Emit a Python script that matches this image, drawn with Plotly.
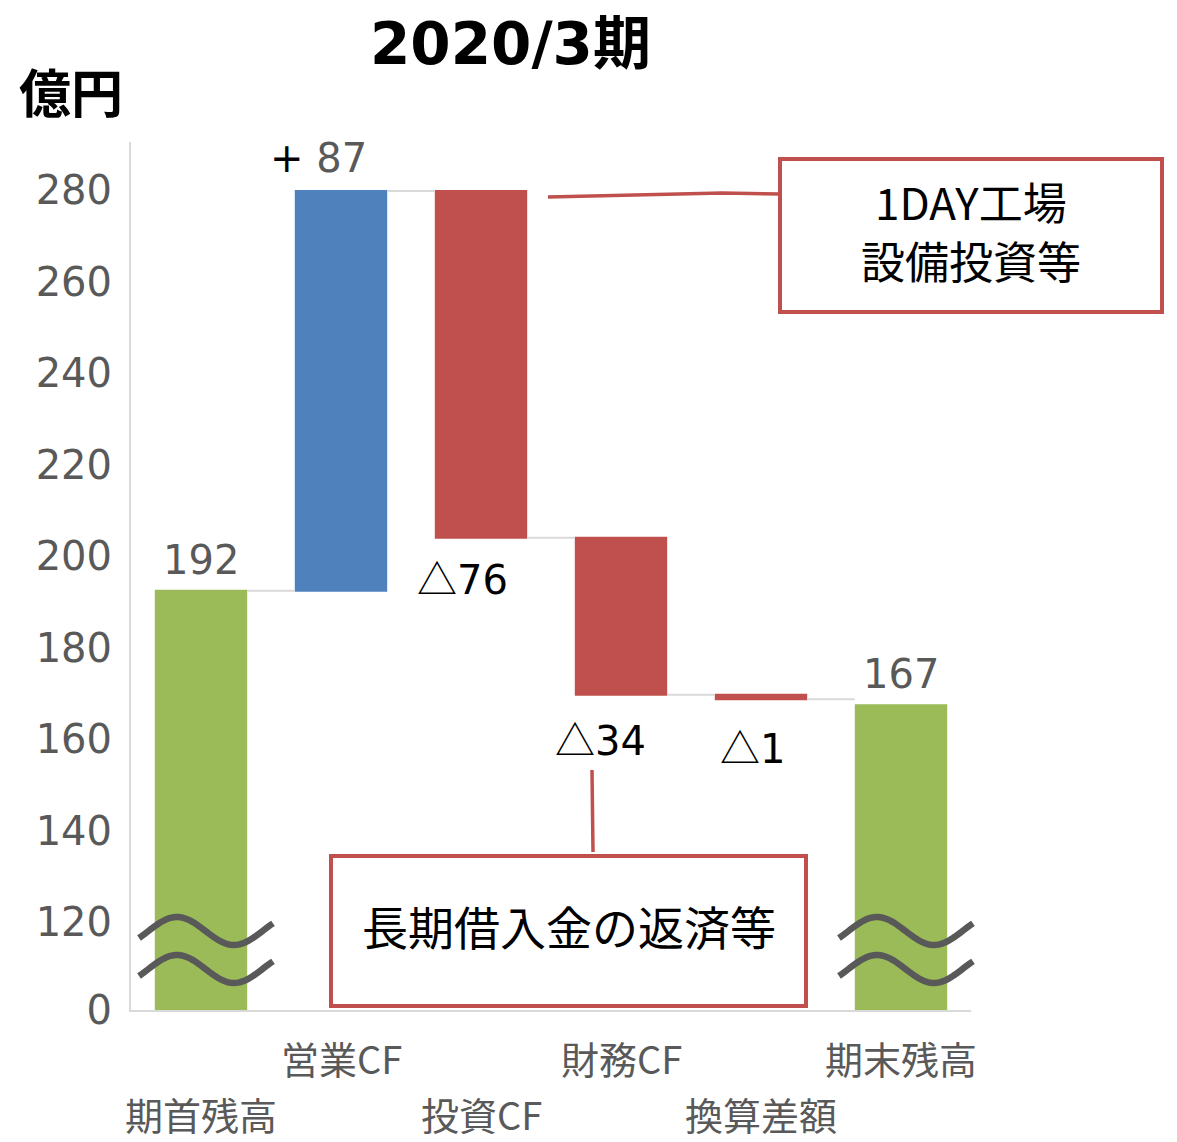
import numpy as np
import plotly.graph_objects as go

# ---------------- data ----------------
categories = ["期首残高", "営業CF", "投資CF", "財務CF", "換算差額", "期末残高"]
measures = ["absolute", "relative", "relative", "relative", "relative", "absolute"]
values = [192.4, 87.4, -75.8, -34.3, -1.0, 167.4]
y_tick_values = [120, 140, 160, 180, 200, 220, 240, 260, 280]
y_break_label = "0"
title_text = "2020/3期"
unit_text = "億円"
callout_invest = ["1DAY工場", "設備投資等"]
callout_finance = "長期借入金の返済等"

# ---------------- styling / layout ----------------
OFF = 8                                   # page body margin of the html page
W, H = 1177 - OFF, 1142 - OFF
L, R, T, B = 131, 971, 142, 1010          # plot area in reference pixels
Y_MIN, Y_MAX = 100.8, 290.5               # axis break: "0" drawn at the bottom
GREEN, BLUE, RED = "#9BBB59", "#4F81BD", "#C0504D"
GRAY = "#595959"
LAT = "DejaVu Sans, Noto Sans CJK JP"
CJK = "Noto Sans CJK JP, DejaVu Sans"
label_xshift = [0, -23, -19, -21, -9, 0]
label_yshift = [6, 8, -8, -12, -16, 6]


def px(x):
    return (x - L) / (R - L)


def py(y):
    return (B - y) / (B - T)


def bar_px(i):
    return L + (i + 0.5) * (R - L) / len(categories)


# running levels
starts, ends = [], []
run = 0.0
for m, v in zip(measures, values):
    if m == "absolute":
        s, e = 0.0, v
    else:
        s, e = run, run + v
    starts.append(s)
    ends.append(e)
    run = e

x_idx = list(range(len(categories)))

fig = go.Figure()
fig.add_trace(go.Waterfall(
    x=x_idx, y=values, measure=measures, width=0.66,
    increasing=dict(marker=dict(color=BLUE)),
    decreasing=dict(marker=dict(color=RED)),
    totals=dict(marker=dict(color=GREEN)),
    connector=dict(line=dict(color="#D9D9D9", width=2), mode="between"),
    textinfo="none", hoverinfo="skip", showlegend=False,
))

annotations = []
# data labels
for i, (m, v) in enumerate(zip(measures, values)):
    n = int(round(abs(v)))
    if m == "absolute":
        txt = f"<span style='color:{GRAY}'>{n}</span>"
        y, anchor = ends[i], "bottom"
    elif v >= 0:
        txt = f"<span style='color:black'>+ </span><span style='color:{GRAY}'>{n}</span>"
        y, anchor = ends[i], "bottom"
    else:
        txt = f"<span style='font-family:Noto Sans CJK JP'>△</span>{n}"
        y, anchor = min(starts[i], ends[i]), "top"
    annotations.append(dict(
        x=i, y=y, xref="x", yref="y", text=txt, showarrow=False,
        yanchor=anchor, xanchor="center", xshift=label_xshift[i], yshift=label_yshift[i],
        font=dict(family=LAT, size=40, color="black"),
    ))

# category labels (staggered)
for i, c in enumerate(categories):
    row_y = 1113 if i % 2 == 0 else 1057
    annotations.append(dict(
        x=i, y=py(row_y), xref="x", yref="paper", text=c, showarrow=False,
        yanchor="middle", xanchor="center",
        font=dict(family=CJK, size=38, color=GRAY),
    ))

# title & unit
annotations.append(dict(
    x=px(510), y=py(44), xref="paper", yref="paper", text=f"<b>{title_text}</b>",
    showarrow=False, xanchor="center", yanchor="middle", borderpad=0,
    font=dict(family=LAT, size=58, color="black"),
))
annotations.append(dict(
    x=px(71), y=py(91), xref="paper", yref="paper", text=f"<b>{unit_text}</b>",
    showarrow=False, xanchor="center", yanchor="middle",
    font=dict(family=CJK, size=52, color="black"),
))

# callout texts
for line_text, line_y in zip(callout_invest, (201, 260)):
    annotations.append(dict(
        x=px(971), y=py(line_y), xref="paper", yref="paper", text=line_text,
        showarrow=False, xanchor="center", yanchor="middle",
        font=dict(family=CJK, size=44, color="black"),
    ))
annotations.append(dict(
    x=px(569), y=py(925), xref="paper", yref="paper", text=callout_finance,
    showarrow=False, xanchor="center", yanchor="middle",
    font=dict(family=CJK, size=46, color="black"),
))

shapes = []
# leader lines
shapes.append(dict(type="path", xref="paper", yref="paper",
                   path=f"M {px(548)},{py(197)} L {px(722)},{py(193)} L {px(780)},{py(194)}",
                   line=dict(color=RED, width=3.5)))
shapes.append(dict(type="line", xref="paper", yref="paper",
                   x0=px(592), y0=py(770), x1=px(593), y1=py(852),
                   line=dict(color=RED, width=3.5)))
# callout boxes
shapes.append(dict(type="rect", xref="paper", yref="paper",
                   x0=px(780), x1=px(1162), y0=py(312), y1=py(159),
                   line=dict(color=RED, width=4), fillcolor="white", layer="below"))
shapes.append(dict(type="rect", xref="paper", yref="paper",
                   x0=px(331), x1=px(806), y0=py(1006), y1=py(856),
                   line=dict(color=RED, width=4), fillcolor="white", layer="above"))


# axis-break waves (decoration)
def wave(cx, cy):
    pts = []
    for t in np.linspace(-64, 70, 45):
        phase = np.pi / 2 + 2 * np.pi * (t + 26) / 114
        yy = cy - 14 * np.sin(phase)
        pts.append((px(cx + t), py(yy)))
    return "M " + " L ".join(f"{a:.5f},{b:.5f}" for a, b in pts)


for i in (0, len(categories) - 1):
    for cy in (931, 969):
        shapes.append(dict(type="path", xref="paper", yref="paper",
                           path=wave(bar_px(i) + 2, cy),
                           line=dict(color=GRAY, width=6.5)))

fig.update_layout(
    width=W, height=H,
    margin=dict(l=L - OFF, r=W - (R - OFF), t=T - OFF, b=H - (B - OFF), pad=0),
    paper_bgcolor="white", plot_bgcolor="white",
    xaxis=dict(range=[-0.5, len(categories) - 0.5], showticklabels=False, ticks="",
               showgrid=False, zeroline=False, showline=True, linecolor="#D9D9D9",
               linewidth=2, layer="below traces", fixedrange=True),
    yaxis=dict(range=[Y_MIN, Y_MAX], tickvals=[Y_MIN] + y_tick_values,
               ticktext=[y_break_label] + [str(v) for v in y_tick_values],
               showgrid=False, zeroline=False, showline=True, linecolor="#D9D9D9",
               linewidth=2, ticks="", ticklabelstandoff=9,
               tickfont=dict(family=LAT, size=40, color=GRAY), layer="below traces"),
    annotations=annotations, shapes=shapes, showlegend=False,
)

fig.write_html("out.html")
